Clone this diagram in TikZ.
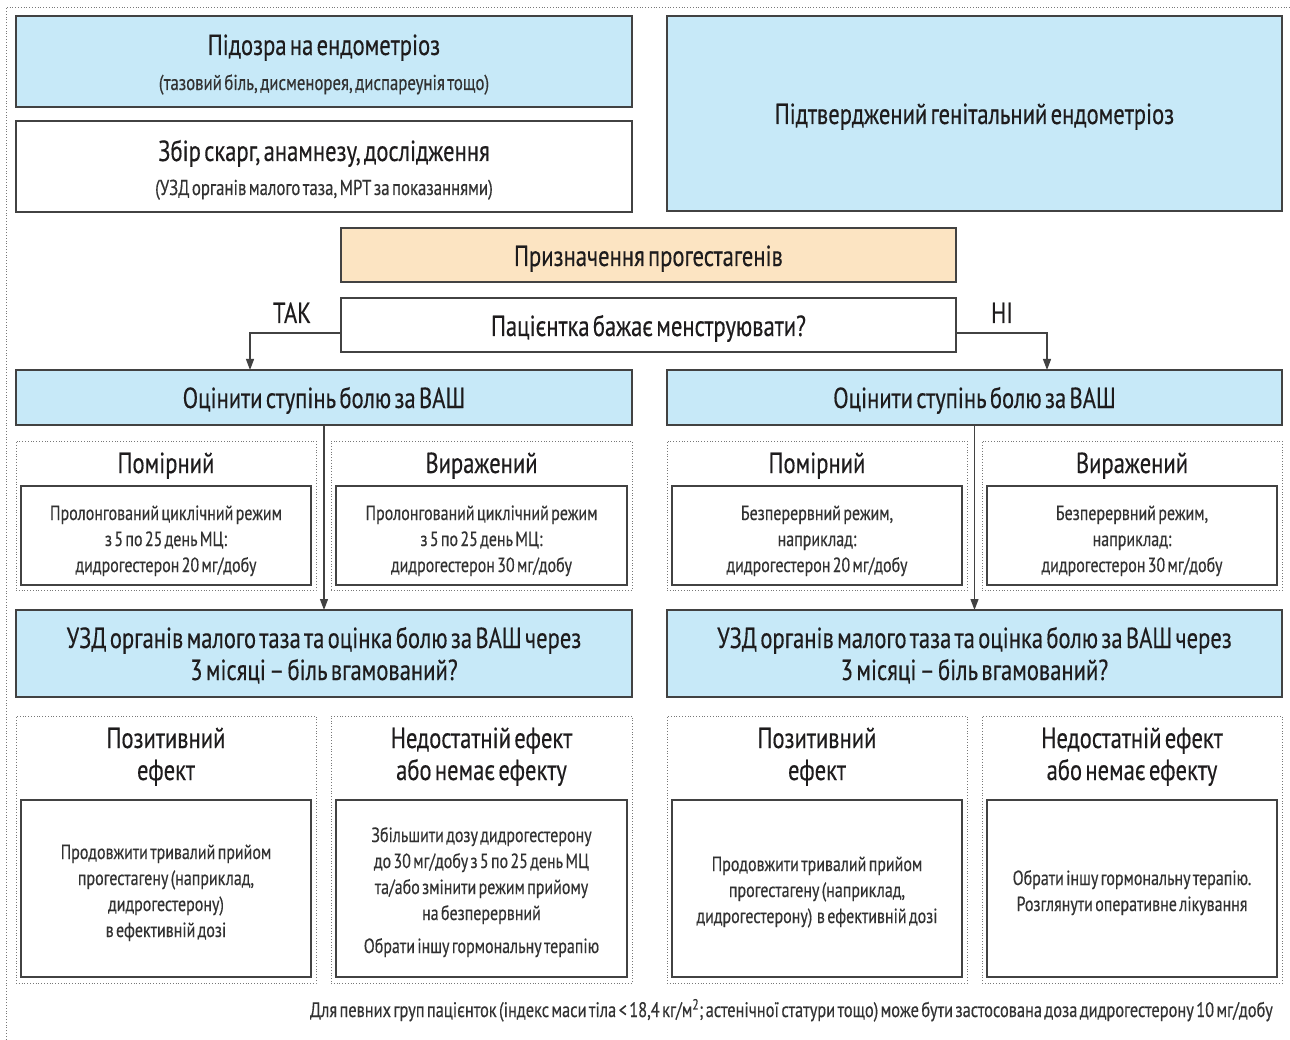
\documentclass[tikz,border=0pt]{standalone}
\usepackage{fontspec}
\setmainfont[FakeStretch=0.78,WordSpace=0.55,FakeBold=0.35]{PT Sans}
\usetikzlibrary{arrows.meta}
\definecolor{bluebox}{RGB}{199,233,248}
\definecolor{orangebox}{RGB}{252,228,194}
\definecolor{frame}{RGB}{66,66,66}
\definecolor{txt}{RGB}{30,28,29}
\definecolor{txtgray}{RGB}{50,50,50}
\definecolor{dotgray}{RGB}{120,120,120}
\begin{document}
\begin{tikzpicture}[x=1pt,y=-1pt,
  box/.style={draw=frame, line width=1.2pt, anchor=north west, inner sep=0pt, outer sep=0pt},
  dotbox/.style={draw=dotgray, dotted, line width=0.8pt, anchor=north west, inner sep=0pt, outer sep=0pt},
  big/.style={anchor=base, inner sep=0pt, text=txt, font=\fontsize{29}{32}\selectfont},
  bigml/.style={anchor=base, inner sep=0pt, text=txt, font=\fontsize{29}{32}\selectfont, align=center},
  sub/.style={anchor=base, inner sep=0pt, text=txtgray, font=\fontsize{21.5}{26}\selectfont},
  body/.style={anchor=base, inner sep=0pt, text=txtgray, font=\fontsize{20.5}{26}\selectfont, align=center},
  arr/.style={draw=frame, line width=1.2pt, -{Triangle[length=11pt,width=8pt]}},
  foot/.style={anchor=base east, inner sep=0pt, text=txtgray, font=\fontsize{21}{22}\selectfont}
]
\useasboundingbox (0,0) rectangle (1290,1040);
% outer dotted frame
\draw[dotgray, dotted, line width=0.8pt] (6,1045) -- (6,7) -- (1295,7);

% top boxes
\node[box, fill=bluebox, minimum width=616, minimum height=91] (susp) at (16,16) {};
\node[big] (suspT) at (324,55) {Підозра на ендометріоз};
\node[sub] (suspS) at (324,90) {(тазовий біль, дисменорея, диспареунія тощо)};

\node[box, fill=white, minimum width=616, minimum height=91] (coll) at (16,121) {};
\node[big] (collT) at (324,161) {Збір скарг, анамнезу, дослідження};
\node[sub] (collS) at (324,195) {(УЗД органів малого таза, МРТ за показаннями)};

\node[box, fill=bluebox, minimum width=615, minimum height=195] (conf) at (667,16) {};
\node[big] (confT) at (974.5,124) {Підтверджений генітальний ендометріоз};

\node[box, fill=orangebox, minimum width=615, minimum height=54] (prog) at (341,228) {};
\node[big] (progT) at (648.5,266) {Призначення прогестагенів};

\node[box, fill=white, minimum width=615, minimum height=54] (want) at (341,298) {};
\node[big] (wantT) at (648.5,336) {Пацієнтка бажає менструювати?};

\node[big] (yes) at (292,323) {ТАК};
\node[big] (no) at (1002,323) {НІ};

% assessment boxes
\node[box, fill=bluebox, minimum width=616, minimum height=55] (evL) at (16,370) {};
\node[big] (evLT) at (324,408) {Оцінити ступінь болю за ВАШ};
\node[box, fill=bluebox, minimum width=615, minimum height=55] (evR) at (667,370) {};
\node[big] (evRT) at (974.5,408) {Оцінити ступінь болю за ВАШ};

\coordinate (yesEnd) at (250,370);
\coordinate (noEnd) at (1047,370);
\draw[arr] (want.west |- 0,333) -| (yesEnd);
\draw[arr] (want.east |- 0,333) -| (noEnd);

% severity boxes
\node[dotbox, minimum width=300, minimum height=149] (modL) at (16,441) {};
\node[dotbox, minimum width=301, minimum height=149] (sevL) at (331,441) {};
\node[dotbox, minimum width=300, minimum height=149] (modR) at (667,441) {};
\node[dotbox, minimum width=300, minimum height=149] (sevR) at (982,441) {};
\node[big] (modLT) at (166,473) {Помірний};
\node[big] (sevLT) at (481.5,473) {Виражений};
\node[big] (modRT) at (817,473) {Помірний};
\node[big] (sevRT) at (1132,473) {Виражений};
\node[box, fill=white, minimum width=290, minimum height=99] (modLI) at (21,486) {};
\node[box, fill=white, minimum width=291, minimum height=99] (sevLI) at (336,486) {};
\node[box, fill=white, minimum width=290, minimum height=99] (modRI) at (672,486) {};
\node[box, fill=white, minimum width=290, minimum height=99] (sevRI) at (987,486) {};
\node[body] (modLB) at (166,572) {Пролонгований циклічний режим\\з 5 по 25 день МЦ:\\дидрогестерон 20 мг/добу};
\node[body] (sevLB) at (481.5,572) {Пролонгований циклічний режим\\з 5 по 25 день МЦ:\\дидрогестерон 30 мг/добу};
\node[body] (modRB) at (817,572) {Безперервний режим,\\наприклад:\\дидрогестерон 20 мг/добу};
\node[body] (sevRB) at (1132,572) {Безперервний режим,\\наприклад:\\дидрогестерон 30 мг/добу};

% ultrasound boxes
\node[box, fill=bluebox, minimum width=616, minimum height=87] (usL) at (16,610) {};
\node[bigml] (usLT) at (324,680) {УЗД органів малого таза та оцінка болю за ВАШ через\\3 місяці – біль вгамований?};
\node[box, fill=bluebox, minimum width=615, minimum height=87] (usR) at (667,610) {};
\node[bigml] (usRT) at (974.5,680) {УЗД органів малого таза та оцінка болю за ВАШ через\\3 місяці – біль вгамований?};

\draw[arr] (evL.south) -- (usL.north);
\draw[arr] (evR.south) -- (usR.north);

% outcome boxes
\node[dotbox, minimum width=300, minimum height=267] (posL) at (16,716) {};
\node[dotbox, minimum width=301, minimum height=267] (insL) at (331,716) {};
\node[dotbox, minimum width=300, minimum height=267] (posR) at (667,716) {};
\node[dotbox, minimum width=300, minimum height=267] (insR) at (982,716) {};
\node[bigml] (posLT) at (166,780) {Позитивний\\ефект};
\node[bigml] (insLT) at (481.5,780) {Недостатній ефект\\або немає ефекту};
\node[bigml] (posRT) at (817,780) {Позитивний\\ефект};
\node[bigml] (insRT) at (1132,780) {Недостатній ефект\\або немає ефекту};
\node[box, fill=white, minimum width=290, minimum height=177] (posLI) at (21,800) {};
\node[box, fill=white, minimum width=291, minimum height=177] (insLI) at (336,800) {};
\node[box, fill=white, minimum width=290, minimum height=177] (posRI) at (672,800) {};
\node[box, fill=white, minimum width=290, minimum height=177] (insRI) at (987,800) {};
\node[body] (posLB) at (166,937) {Продовжити тривалий прийом\\прогестагену (наприклад,\\дидрогестерону)\\в ефективній дозі};
\node[body] (insLB) at (481.5,920) {Збільшити дозу дидрогестерону\\до 30 мг/добу з 5 по 25 день МЦ\\та/або змінити режим прийому\\на безперервний};
\node[body] (insLB2) at (481.5,953) {Обрати іншу гормональну терапію};
\node[body] (posRB) at (817,923) {Продовжити тривалий прийом\\прогестагену (наприклад,\\дидрогестерону)\ \ в ефективній дозі};
\node[body] (insRB) at (1132,911) {Обрати іншу гормональну терапію.\\Розглянути оперативне лікування};

\node[foot] (note) at (1273,1017) {Для певних груп пацієнток (індекс маси тіла < 18,4 кг/м\textsuperscript{2}; астенічної статури тощо) може бути застосована доза дидрогестерону 10 мг/добу};
\end{tikzpicture}
\end{document}
